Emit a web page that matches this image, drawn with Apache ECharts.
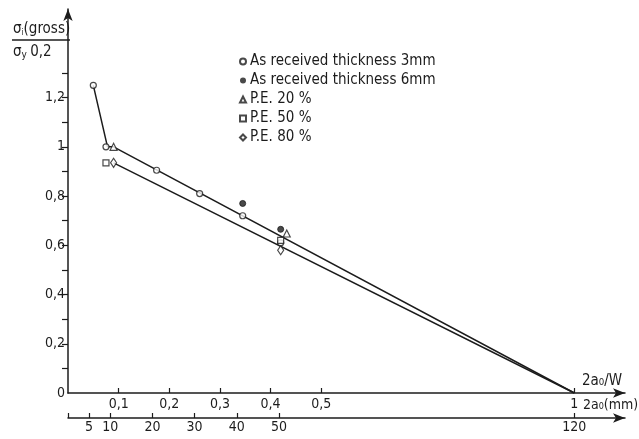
<!DOCTYPE html>
<html>
<head>
<meta charset="utf-8">
<script src="https://cdn.jsdelivr.net/npm/echarts@6/dist/echarts.min.js"></script>
<style>
  html, body { margin: 0; padding: 0; background: #fff; }
  #chart { width: 639px; height: 439px; }
</style>
</head>
<body>
<div id="chart"></div>
<script>
// Relative crack length 2a0/W and normalised gross stress sigma1/sigma_y0.2
const received3mm = [[0.05, 1.25], [0.075, 1.0], [0.175, 0.905], [0.26, 0.81], [0.345, 0.72], [0.42, 0.61]];
const received6mm = [[0.345, 0.77], [0.42, 0.665]];
const pe20 = [[0.09, 1.0], [0.432, 0.648]];
const pe50 = [[0.075, 0.935], [0.42, 0.62]];
const pe80 = [[0.09, 0.935], [0.42, 0.58]];

// Fitted trend lines
const upperLine = [[0.05, 1.25], [0.078, 1.0], [0.09, 1.0], [1, 0]];
const lowerLine = [[0.09, 0.935], [1, 0]];

// Tick values
const yLabelValues = [0, 0.2, 0.4, 0.6, 0.8, 1, 1.2];
const yTickValues = [0.1, 0.2, 0.3, 0.4, 0.5, 0.6, 0.7, 0.8, 0.9, 1, 1.1, 1.2, 1.3];
const ratioTicks = [0.1, 0.2, 0.3, 0.4, 0.5, 1];
const mmTicks = [5, 10, 20, 30, 40, 50, 120];
const W = 120; // specimen width, mm

const ink = '#1c1c1c';
const font = "'DejaVu Sans Condensed', 'DejaVu Sans', sans-serif";
const comma = v => String(v).replace('.', ',');

const chart = echarts.init(document.getElementById('chart'), null, { renderer: 'canvas' });

const markStyle = { color: '#fff', borderColor: ink, borderWidth: 1.2 };

chart.setOption({
  backgroundColor: '#fff',
  animation: false,
  textStyle: { fontFamily: font, color: ink },
  grid: { left: 68, right: 14, top: 9, bottom: 46 },
  legend: {
    orient: 'vertical',
    left: 239,
    top: 54,
    padding: 0,
    itemWidth: 6,
    itemHeight: 6,
    itemGap: 4,
    data: ['As received thickness 3mm', 'As received thickness 6mm', 'P.E. 20 %', 'P.E. 50 %', 'P.E. 80 %'],
    textStyle: { fontFamily: font, fontSize: 15, color: ink, padding: [0, 0, 0, -1] }
  },
  xAxis: [
    {
      type: 'value', min: 0, max: 1.1, position: 'bottom',
      splitLine: { show: false },
      axisLine: { lineStyle: { color: ink, width: 1.5 }, symbol: ['none', 'arrow'], symbolSize: [7, 12], onZero: false },
      axisTick: { inside: true, length: 5, customValues: ratioTicks, lineStyle: { color: ink, width: 1.2 } },
      axisLabel: { customValues: ratioTicks, formatter: comma, fontSize: 14, color: ink, margin: 4, fontFamily: font }
    },
    {
      type: 'value', min: 0, max: 1.1 * W, position: 'bottom', offset: 25,
      splitLine: { show: false },
      axisLine: { lineStyle: { color: ink, width: 1.5 }, symbol: ['none', 'arrow'], symbolSize: [7, 12], onZero: false },
      axisTick: { inside: true, length: 5, customValues: [0].concat(mmTicks), lineStyle: { color: ink, width: 1.2 } },
      axisLabel: { customValues: mmTicks, fontSize: 14, color: ink, margin: 2, fontFamily: font }
    }
  ],
  yAxis: {
    type: 'value', min: 0, max: 1.56,
    splitLine: { show: false },
    axisLine: { lineStyle: { color: ink, width: 1.5 }, symbol: ['none', 'arrow'], symbolSize: [7, 12], onZero: false },
    axisTick: { length: 6, customValues: yTickValues, lineStyle: { color: ink, width: 1.2 } },
    axisLabel: { customValues: yLabelValues, formatter: comma, fontSize: 14, color: ink, margin: 3, fontFamily: font }
  },
  graphic: [
    {
      type: 'text', left: 13, top: 22,
      style: {
        text: '{g|σ}{s|i}{g|(gross)}',
        rich: {
          g: { fontSize: 15, fontFamily: font, fill: ink },
          s: { fontSize: 8, fontFamily: font, fill: ink, padding: [7, 0, 0, 0] }
        }
      }
    },
    { type: 'line', shape: { x1: 12, y1: 40, x2: 70, y2: 40 }, style: { stroke: ink, lineWidth: 1.5 } },
    {
      type: 'text', left: 13, top: 45,
      style: {
        text: '{g|σ}{s|y} {g|0,2}',
        rich: {
          g: { fontSize: 15, fontFamily: font, fill: ink },
          s: { fontSize: 10, fontFamily: font, fill: ink, padding: [6, 0, 0, 0] }
        }
      }
    },
    { type: 'text', left: 582, top: 374, style: { text: '2a₀/W', fontSize: 15, fontFamily: font, fill: ink } },
    { type: 'text', left: 583, top: 398, style: { text: '2a₀(mm)', fontSize: 14, fontFamily: font, fill: ink } }
  ],
  series: [
    { type: 'line', data: upperLine, symbol: 'none', silent: true, lineStyle: { color: ink, width: 1.5 }, z: 1 },
    { type: 'line', data: lowerLine, symbol: 'none', silent: true, lineStyle: { color: ink, width: 1.5 }, z: 1 },
    { name: 'As received thickness 3mm', type: 'scatter', data: received3mm, symbol: 'circle', symbolSize: 6, itemStyle: markStyle, z: 3 },
    { name: 'As received thickness 6mm', type: 'scatter', data: received6mm, symbol: 'circle', symbolSize: 6, itemStyle: { color: ink, borderColor: ink }, z: 3 },
    { name: 'P.E. 20 %', type: 'scatter', data: pe20, symbol: 'triangle', symbolSize: 7, itemStyle: markStyle, z: 3 },
    { name: 'P.E. 50 %', type: 'scatter', data: pe50, symbol: 'rect', symbolSize: 6, itemStyle: markStyle, z: 3 },
    { name: 'P.E. 80 %', type: 'scatter', data: pe80, symbol: 'diamond', symbolSize: [6, 9], itemStyle: markStyle, z: 3 }
  ]
});
</script>
</body>
</html>
